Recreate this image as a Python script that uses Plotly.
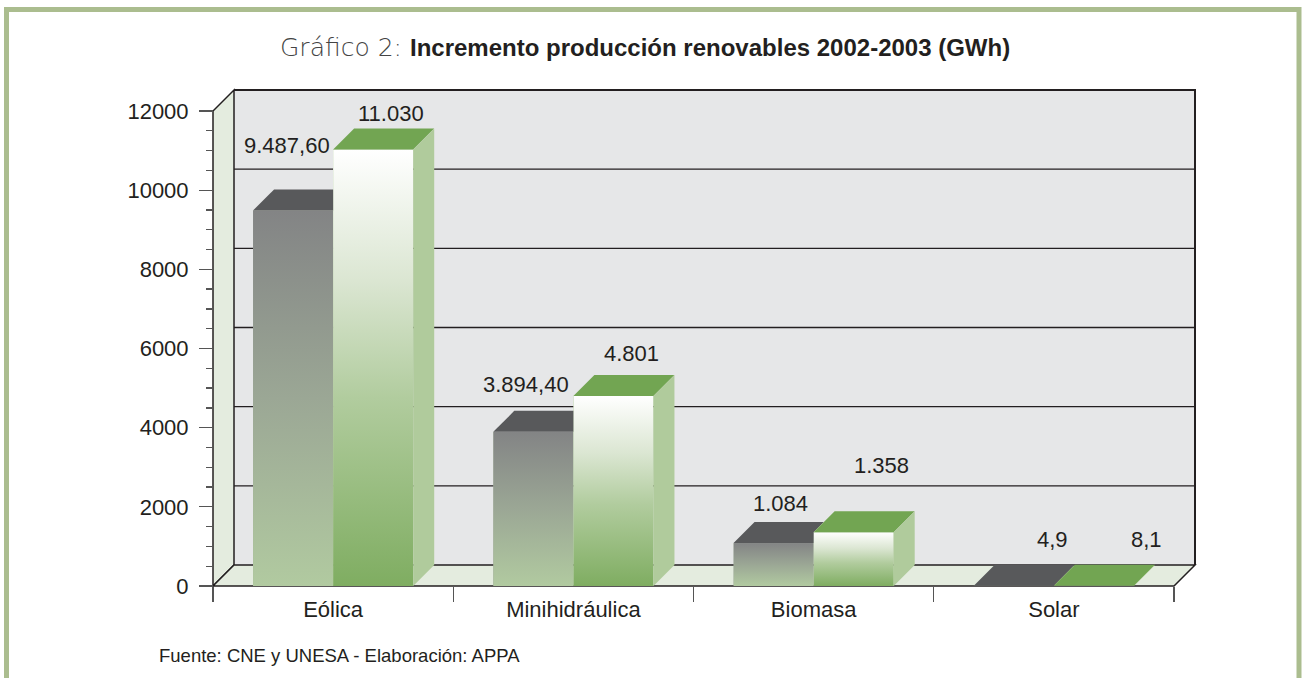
import base64
import plotly.graph_objects as go

# ---------------- data ----------------
categories = ["Eólica", "Minihidráulica", "Biomasa", "Solar"]
values_2002 = [9487.60, 3894.40, 1084, 4.9]
values_2003 = [11030, 4801, 1358, 8.1]
labels_2002 = ["9.487,60", "3.894,40", "1.084", "4,9"]
labels_2003 = ["11.030", "4.801", "1.358", "8,1"]
y_ticks = [0, 2000, 4000, 6000, 8000, 10000, 12000]
y_minor_step = 500
y_max = 12000

# label offsets (pixels) relative to the front-top centre of each bar
offsets_2002 = [(-6, 65), (-7, 47), (7, 40), (39, 46)]
offsets_2003 = [(18, 36), (18, 42), (28, 67), (53, 46)]

# ---------------- geometry / style ----------------
W, H = 1302, 678
ML, MR, MT, MB = 203, 97, 80, 82
PAD = 10                 # px of slack around the front frame
DEPTH = 21               # px depth of the 3D effect
plot_w = W - ML - MR
plot_h = H - MT - MB
n_cat = len(categories)
front_w = plot_w - PAD - PAD - DEPTH
front_h = plot_h - PAD - PAD - DEPTH
xpp = n_cat / front_w
ypp = y_max / front_h
DX = DEPTH * xpp
DY = DEPTH * ypp
x0, x1 = -0.5, n_cat - 0.5
BAR_W = 1 / 3

DARK = "#231f20"
WALL_BACK = "#e6e7e8"
WALL_GREEN = "#e4ecdf"
FRAME = "#abbd8f"
TOP_2002 = "#58595b"
TOP_2003 = "#72a552"
SIDE_2003 = "#b0cb9c"
FONT = "Arial, Liberation Sans, sans-serif"


def px2paper_x(px):
    return (px - ML) / plot_w


def px2paper_y(py):
    return (H - MB - py) / plot_h


def grad_uri(stops):
    svg = ('<svg xmlns="http://www.w3.org/2000/svg" width="10" height="100" '
           'viewBox="0 0 10 100" preserveAspectRatio="none"><defs>'
           '<linearGradient id="g" x1="0" y1="0" x2="0" y2="1">'
           + "".join(f'<stop offset="{o}" stop-color="{c}"/>' for o, c in stops)
           + '</linearGradient></defs><rect width="10" height="100" fill="url(#g)"/></svg>')
    return "data:image/svg+xml;base64," + base64.b64encode(svg.encode()).decode()


GRAD_2002 = grad_uri([(0, "#838485"), (0.5, "#9ba795"), (1, "#b1caa0")])
GRAD_2003 = grad_uri([(0, "#ffffff"), (0.3, "#dbe6d2"), (0.57, "#b1cc9e"), (1, "#7fad61")])

xs = list(range(n_cat))

fig = go.Figure()
fig.add_trace(go.Bar(x=xs, y=values_2002, width=BAR_W, offset=-BAR_W,
                     marker=dict(color="#9ba795", line=dict(width=0)),
                     name="2002", hoverinfo="skip"))
fig.add_trace(go.Bar(x=xs, y=values_2003, width=BAR_W, offset=0,
                     marker=dict(color="#b1cc9e", line=dict(width=0)),
                     name="2003", hoverinfo="skip"))

shapes = []


def poly(pts):
    return "M " + " L ".join(f"{x},{y}" for x, y in pts) + " Z"


# back wall
shapes.append(dict(type="rect", xref="x", yref="y", layer="below",
                   x0=x0 + DX, x1=x1 + DX, y0=DY, y1=y_max + DY,
                   fillcolor=WALL_BACK, line=dict(width=0)))
# left wall
shapes.append(dict(type="path", xref="x", yref="y", layer="below",
                   path=poly([(x0, 0), (x0, y_max), (x0 + DX, y_max + DY), (x0 + DX, DY)]),
                   fillcolor=WALL_GREEN, line=dict(color=DARK, width=1.5)))
# floor
shapes.append(dict(type="path", xref="x", yref="y", layer="below",
                   path=poly([(x0, 0), (x1, 0), (x1 + DX, DY), (x0 + DX, DY)]),
                   fillcolor=WALL_GREEN, line=dict(color=DARK, width=1.5)))
# back wall grid lines
for t in y_ticks[1:-1]:
    shapes.append(dict(type="line", xref="x", yref="y", layer="below",
                       x0=x0 + DX, x1=x1 + DX, y0=t + DY, y1=t + DY,
                       line=dict(color=DARK, width=1.3)))
# back wall frame (top + right)
shapes.append(dict(type="path", xref="x", yref="y", layer="below",
                   path=f"M {x0 + DX},{y_max + DY} L {x1 + DX},{y_max + DY} L {x1 + DX},{DY}",
                   line=dict(color=DARK, width=2)))

images = []
for i in xs:
    v2, v3 = values_2002[i], values_2003[i]
    images.append(dict(source=GRAD_2002, xref="x", yref="y", x=i - BAR_W, y=v2,
                       sizex=BAR_W, sizey=v2, xanchor="left", yanchor="top",
                       sizing="stretch", layer="above"))
    images.append(dict(source=GRAD_2003, xref="x", yref="y", x=i, y=v3,
                       sizex=BAR_W, sizey=v3, xanchor="left", yanchor="top",
                       sizing="stretch", layer="above"))
    # 2002 top face, hidden part behind the 2003 bar removed
    m = min(v3, v2 + DY)
    shapes.append(dict(type="path", xref="x", yref="y", layer="above",
                       path=poly([(i - BAR_W, v2), (i, v2), (i, m),
                                  (i + (v2 + DY - m) / DY * DX, v2 + DY),
                                  (i - BAR_W + DX, v2 + DY)]),
                       fillcolor=TOP_2002, line=dict(width=0)))
    # 2003 top face
    shapes.append(dict(type="path", xref="x", yref="y", layer="above",
                       path=poly([(i, v3), (i + BAR_W, v3), (i + BAR_W + DX, v3 + DY), (i + DX, v3 + DY)]),
                       fillcolor=TOP_2003, line=dict(width=0)))
    # 2003 side face
    shapes.append(dict(type="path", xref="x", yref="y", layer="above",
                       path=poly([(i + BAR_W, 0), (i + BAR_W, v3), (i + BAR_W + DX, v3 + DY), (i + BAR_W + DX, DY)]),
                       fillcolor=SIDE_2003, line=dict(width=0)))

# outer green frame
shapes.append(dict(type="rect", xref="paper", yref="paper",
                   x0=px2paper_x(6.5), x1=px2paper_x(1299), y0=px2paper_y(700), y1=px2paper_y(9.5),
                   fillcolor="rgba(0,0,0,0)", line=dict(color=FRAME, width=5)))

annotations = []
for i in xs:
    annotations.append(dict(x=i - BAR_W / 2, y=values_2002[i], xref="x", yref="y",
                            text=labels_2002[i], showarrow=False,
                            xshift=offsets_2002[i][0], yshift=offsets_2002[i][1],
                            xanchor="center", yanchor="middle",
                            font=dict(family=FONT, size=22, color=DARK)))
    annotations.append(dict(x=i + BAR_W / 2, y=values_2003[i], xref="x", yref="y",
                            text=labels_2003[i], showarrow=False,
                            xshift=offsets_2003[i][0], yshift=offsets_2003[i][1],
                            xanchor="center", yanchor="middle",
                            font=dict(family=FONT, size=22, color=DARK)))

annotations.append(dict(xref="paper", yref="paper", x=px2paper_x(157), y=px2paper_y(655),
                        xanchor="left", yanchor="middle", showarrow=False,
                        text="Fuente: CNE y UNESA - Elaboración: APPA",
                        font=dict(family=FONT, size=18.5, color=DARK)))

annotations.append(dict(xref="paper", yref="paper", x=px2paper_x(645), y=px2paper_y(47),
                        xanchor="center", yanchor="middle", showarrow=False,
                        text='<span style="font-family:DejaVu Sans;font-weight:300;color:#444444;font-size:25px">Gráfico 2: </span>'
                             '<b>Incremento producción renovables 2002-2003 (GWh)</b>',
                        font=dict(family=FONT, size=24, color=DARK)))

minor_y = [v for v in range(0, y_max + 1, y_minor_step) if v not in y_ticks]

fig.update_layout(
    width=W, height=H,
    margin=dict(l=ML, r=MR, t=MT, b=MB, pad=0),
    paper_bgcolor="white", plot_bgcolor="white",
    showlegend=False, barmode="overlay", hovermode=False,
    shapes=shapes, images=images, annotations=annotations,
    xaxis=dict(range=[x0 - PAD * xpp, x1 + (DEPTH + PAD) * xpp],
               anchor="free", position=PAD / plot_h,
               tickmode="array", tickvals=xs, ticktext=categories,
               ticks="", showgrid=False, zeroline=False, showline=False,
               ticklabelstandoff=8,
               tickfont=dict(family=FONT, size=22, color=DARK),
               minor=dict(tickmode="array", tickvals=[c - 0.5 for c in range(n_cat + 1)],
                          ticks="outside", ticklen=15, tickcolor="#555555", tickwidth=1.3,
                          showgrid=False)),
    yaxis=dict(range=[-PAD * ypp, y_max + (DEPTH + PAD) * ypp],
               anchor="free", position=PAD / plot_w,
               tickmode="array", tickvals=y_ticks, ticktext=[str(t) for t in y_ticks],
               ticks="outside", ticklen=14, tickcolor="#555555", tickwidth=1.3,
               showgrid=False, zeroline=False, showline=False,
               ticklabelstandoff=6,
               tickfont=dict(family=FONT, size=22, color=DARK),
               minor=dict(tickmode="array", tickvals=minor_y, ticks="outside",
                          ticklen=7, tickcolor="#555555", tickwidth=1.3, showgrid=False)),
)

fig.write_html("out.html", config={"displayModeBar": False, "staticPlot": True},
               post_script="document.body.style.margin='0';document.body.style.overflow='hidden';")
